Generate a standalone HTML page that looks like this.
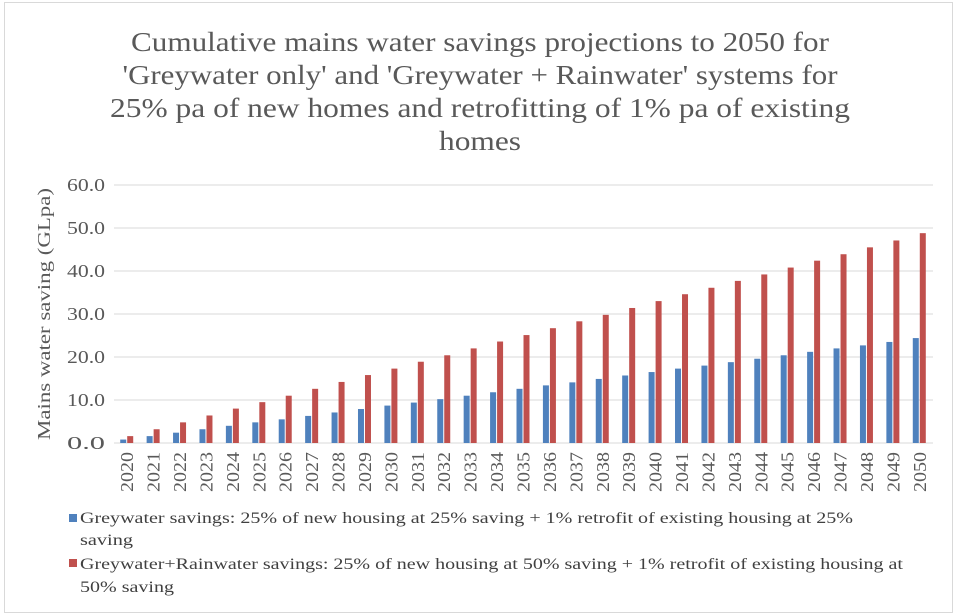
<!DOCTYPE html>
<html><head><meta charset="utf-8"><style>
body{margin:0;background:#fff;}
svg{display:block;font-family:"Liberation Serif",serif;}
</style></head><body>
<svg id="chart" width="960" height="616">
<rect x="4.5" y="2.5" width="948" height="610" fill="#fff" stroke="#d9d9d9"/>
<g fill="#595959" font-size="27" text-anchor="middle" lengthAdjust="spacingAndGlyphs">
<text x="480" y="51" textLength="698" lengthAdjust="spacingAndGlyphs">Cumulative mains water savings projections to 2050 for</text>
<text x="480" y="84" textLength="715" lengthAdjust="spacingAndGlyphs">'Greywater only' and 'Greywater + Rainwater' systems for</text>
<text x="480" y="117" textLength="740" lengthAdjust="spacingAndGlyphs">25% pa of new homes and  retrofitting of 1% pa of existing</text>
<text x="480" y="150" textLength="82" lengthAdjust="spacingAndGlyphs">homes</text>
</g>
<text transform="translate(50,314) rotate(-90)" text-anchor="middle" font-size="18" fill="#595959" textLength="252" lengthAdjust="spacingAndGlyphs">Mains water saving  (GLpa)</text>
<g id="grid"></g><g id="bars"></g><g id="xlabels"></g>
<g font-size="16" fill="#404040">
<rect x="69" y="514" width="8" height="8" fill="#4f81bd"/>
<text x="80" y="523" textLength="773" lengthAdjust="spacingAndGlyphs">Greywater savings: 25% of new housing at 25% saving + 1% retrofit of existing housing at 25%</text>
<text x="80" y="545" textLength="53" lengthAdjust="spacingAndGlyphs">saving</text>
<rect x="69" y="559" width="8" height="8" fill="#c0504d"/>
<text x="80" y="569" textLength="823" lengthAdjust="spacingAndGlyphs">Greywater+Rainwater savings: 25% of new housing at 50% saving + 1% retrofit of existing housing at</text>
<text x="80" y="592" textLength="94" lengthAdjust="spacingAndGlyphs">50% saving</text>
</g>
</svg>
<script>
const years=[2020,2021,2022,2023,2024,2025,2026,2027,2028,2029,2030,2031,2032,2033,2034,2035,2036,2037,2038,2039,2040,2041,2042,2043,2044,2045,2046,2047,2048,2049,2050];
const greywater=[0.8,1.6,2.4,3.2,4.0,4.8,5.5,6.3,7.1,7.9,8.7,9.4,10.2,11.0,11.8,12.6,13.4,14.1,14.9,15.7,16.5,17.3,18.0,18.8,19.6,20.4,21.2,22.0,22.7,23.5,24.4];
const rainwater=[1.6,3.2,4.8,6.4,8.0,9.5,11.0,12.6,14.2,15.8,17.3,18.9,20.4,22.0,23.6,25.1,26.7,28.3,29.8,31.4,33.0,34.6,36.1,37.7,39.2,40.8,42.4,43.9,45.5,47.1,48.8];
const yTicks=[0,10,20,30,40,50,60];
const NS="http://www.w3.org/2000/svg";
const L=114,R=933,T=185,B=443,YMAX=60;
const band=(R-L)/years.length;
const y=v=>B-(v/YMAX)*(B-T);
const xc=i=>L+band*(i+0.5);
function mk(tag,attrs,parent){const e=document.createElementNS(NS,tag);for(const k in attrs)e.setAttribute(k,attrs[k]);parent.appendChild(e);return e;}
const grid=document.getElementById('grid'),bars=document.getElementById('bars'),xl=document.getElementById('xlabels');
yTicks.forEach(t=>{
 const ln=mk('line',{x1:L,x2:R,y1:y(t),y2:y(t),stroke:'#d9d9d9','stroke-width':1},grid);
 
 
 const tx=mk('text',{x:L-9,y:y(t)+6,'text-anchor':'end','font-size':18,fill:'#595959',textLength:38,lengthAdjust:'spacingAndGlyphs'},grid);
 tx.textContent=t.toFixed(1);
 
 
});
years.forEach((yr,i)=>{
 const c=xc(i);
 const b1=mk('rect',{x:c-7,y:y(greywater[i]),width:6,height:B-y(greywater[i]),fill:'#4f81bd'},bars);
 
 
 const b2=mk('rect',{x:c,y:y(rainwater[i]),width:6,height:B-y(rainwater[i]),fill:'#c0504d'},bars);
 
 
 const t=mk('text',{transform:`translate(${c+6},${B+9}) rotate(-90)`,'text-anchor':'end','font-size':18,fill:'#595959',textLength:40,lengthAdjust:'spacingAndGlyphs'},xl);
 t.textContent=yr;
 
 
});
</script>
</body></html>
